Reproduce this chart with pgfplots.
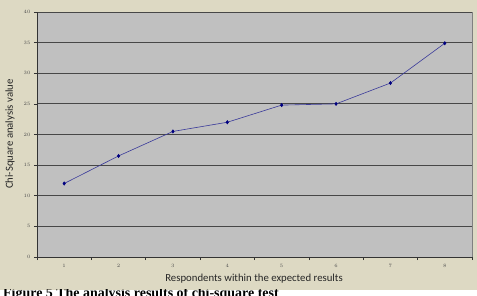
\documentclass[border=0pt]{standalone}
\usepackage{pgfplots}
\pgfplotsset{compat=1.18}
\usepackage{fontspec}
\setmainfont{Carlito}
\newfontfamily\capfont{Liberation Serif}
\definecolor{bgtan}{HTML}{DDD9C3}
\definecolor{plotgray}{HTML}{C0C0C0}
\definecolor{linenavy}{HTML}{3A3A9A}
\definecolor{marknavy}{HTML}{000080}
\begin{document}
\begin{tikzpicture}
\useasboundingbox (0,0) rectangle (477bp,296bp);
\fill[bgtan] (0,6bp) rectangle (477bp,296bp);
\begin{scope}
\clip (0,0) rectangle (477bp,6bp);
\node[anchor=north west, inner sep=0pt, font=\capfont\bfseries\fontsize{14}{16}\selectfont] at (3bp,9bp) {Figure 5 The analysis results of chi-square test};
\end{scope}
\begin{axis}[
  at={(37bp,39bp)}, anchor=south west,
  scale only axis, width=435bp, height=245bp,
  xmin=0.5, xmax=8.5, ymin=0, ymax=40,
  axis background/.style={fill=plotgray},
  axis x line*=bottom, axis y line*=left,
  axis line style={black!80, line width=0.7bp},
  tick align=outside,
  major tick length=3bp,
  tick style={black!80, line width=0.6bp},
  xtick={0.5,1.5,...,8.5}, xticklabels={},
  extra x ticks={1,2,3,4,5,6,7,8},
  extra x tick style={major tick length=0pt},
  ytick={0,5,...,40},
  ymajorgrids,
  major grid style={black!72, line width=0.8bp},
  ticklabel style={font=\fontsize{5.5}{6}\selectfont, text=black!70},
  xticklabel style={yshift=-4bp},
  xlabel={Respondents within the expected results},
  ylabel={Chi-Square analysis value},
  label style={font=\fontsize{10.8}{12}\selectfont, text=black!85},
  xlabel style={at={(axis description cs:0.499,-0.09)}, anchor=center},
  ylabel style={at={(axis description cs:-0.062,0.502)}, anchor=center},
  clip=false,
]
\addplot[linenavy, line width=0.6bp, mark=diamond*, mark size=1.6bp,
  mark options={fill=marknavy, draw=marknavy}]
  coordinates {(1,12) (2,16.5) (3,20.5) (4,22) (5,24.8) (6,25.0) (7,28.4) (8,34.9)};
\draw[black!50, line width=0.6bp] (rel axis cs:1,0) -- (rel axis cs:1,1);
\end{axis}
\end{tikzpicture}
\end{document}
